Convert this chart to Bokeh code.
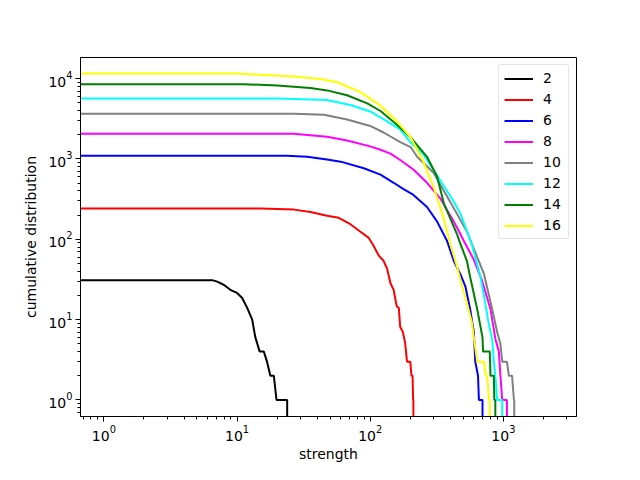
from bokeh.plotting import figure
from bokeh.models import LogTicker
from bokeh.embed import file_html
from bokeh.resources import INLINE

# series labels and colours
labels = ["2", "4", "6", "8", "10", "12", "14", "16"]
colors = ["black", "red", "blue", "magenta", "gray", "cyan", "green", "yellow"]

# strength values (x) and cumulative counts (y); 0.1 stands for a count of 0
s2 = [0.5, 6.5, 7.1, 8.0, 8.9, 10.0, 10.9, 11.9, 13.0, 13.7, 14.8, 15.9, 16.8, 17.8, 18.9, 19.8, 23.8, 23.8]
c2 = [31, 31, 29.7, 27, 23.5, 21.5, 18.7, 14.1, 10, 6.1, 4, 4, 3, 2, 2, 1, 1, 0.1]

s4 = [0.5, 15, 26.8, 35.6, 47.4, 58, 71, 84, 97.6, 106, 116, 126, 134, 142, 150, 158, 164, 168, 176, 183, 189, 200, 204, 208, 210, 211, 211]
c4 = [241, 241, 234, 219, 196, 185, 154, 125, 104, 83, 62.5, 54, 43, 28.4, 23.5, 14.8, 14, 8.1, 7, 5.1, 3, 3, 2, 2, 1, 1, 0.1]

s6 = [0.5, 23.8, 33.6, 47.4, 60, 89.6, 119.5, 150, 178, 207, 267, 318, 378, 424, 478, 518, 563, 600, 615, 645, 655, 697, 697]
c6 = [1093, 1093, 1063, 986, 925, 767, 638, 505, 420, 366, 252, 166, 95, 54, 36, 26, 13.5, 7, 3, 2, 1, 1, 0.1]

s8 = [0.5, 26.5, 47.4, 67, 100, 119.5, 142, 168, 212, 267, 338, 424, 450, 505, 596, 690, 800, 870, 925, 950, 980, 1063, 1063]
c8 = [2060, 2060, 1890, 1693, 1433, 1303, 1166, 970, 733, 505, 318, 166, 138, 95, 57, 31, 13.5, 5.8, 4, 2, 1, 1, 0.1]

s10 = [0.5, 26.5, 45, 67, 100, 126, 168, 201, 225, 300, 400, 532, 636, 714, 824, 898, 950, 980, 1063, 1100, 1162, 1200, 1207, 1207]
c10 = [3650, 3650, 3556, 3100, 2575, 2133, 1615, 1406, 1063, 670, 290, 125, 60, 37.5, 13.5, 7, 5, 3, 3, 2, 2, 1, 1, 0.1]

s12 = [0.5, 20, 47.4, 71, 100, 119.5, 168, 201, 250, 300, 357, 424, 478, 580, 673, 714, 780, 824, 848, 870, 898, 980, 980]
c12 = [5660, 5660, 5400, 4700, 3900, 3300, 2340, 1600, 1150, 720, 460, 296, 205, 86, 34, 20, 8.5, 5.8, 3, 2, 1, 1, 0.1]

s14 = [0.5, 11.2, 20, 35.6, 47.4, 67, 95, 119.5, 158, 201, 267, 318, 357, 450, 478, 532, 563, 636, 697, 704, 790, 800, 848, 855, 870, 870]
c14 = [8530, 8530, 8200, 7620, 7130, 6200, 4920, 3950, 2690, 1858, 1063, 600, 280, 114, 86, 54, 34, 13.5, 6, 4, 4, 2, 2, 1, 1, 0.1]

s16 = [0.5, 10, 15, 26.8, 42, 56.5, 84, 119.5, 158, 201, 245, 300, 357, 400, 450, 478, 532, 580, 596, 636, 714, 738, 756, 780, 790, 790]
c16 = [11600, 11600, 11150, 10650, 9880, 9010, 6820, 4600, 2958, 1858, 1000, 440, 182, 86.5, 45, 30, 16, 9.3, 6.5, 3, 3, 2, 2, 1, 1, 0.1]

xs = [s2, s4, s6, s8, s10, s12, s14, s16]
ys = [c2, c4, c6, c8, c10, c12, c14, c16]

FONT = "DejaVu Sans"

p = figure(width=624, height=464, x_axis_type="log", y_axis_type="log",
           x_range=(0.668, 3540), y_range=(0.623, 18300),
           output_backend="svg", toolbar_location=None,
           min_border_left=80, min_border_right=48,
           min_border_top=57, min_border_bottom=44)

p.xgrid.visible = False
p.ygrid.visible = False
p.outline_line_color = "black"
p.outline_line_alpha = 1
p.outline_line_width = 1
p.background_fill_color = "white"
p.border_fill_color = "white"

for ax in (p.xaxis[0], p.yaxis[0]):
    ax.ticker = LogTicker(num_minor_ticks=10)
    ax.axis_line_color = "black"
    ax.major_tick_line_color = "black"
    ax.minor_tick_line_color = "black"
    ax.major_tick_out = 5
    ax.major_tick_in = 0
    ax.minor_tick_out = 3
    ax.minor_tick_in = 0
    ax.major_label_standoff = 3
    ax.major_label_text_font = FONT
    ax.major_label_text_font_size = "14px"
    ax.major_label_text_color = "black"
    ax.axis_label_text_font = FONT
    ax.axis_label_text_font_size = "14px"
    ax.axis_label_text_font_style = "normal"
    ax.axis_label_text_color = "black"
    ax.axis_label_standoff = 2

p.yaxis[0].axis_label_standoff = 6
p.xaxis.axis_label = "strength"
p.yaxis.axis_label = "cumulative distribution"

for x, y, c, lab in zip(xs, ys, colors, labels):
    p.line(x, y, line_color=c, line_width=2, legend_label=lab)

lg = p.legend[0]
lg.location = "top_right"
lg.margin = 7
lg.padding = 5
lg.spacing = 5
lg.glyph_width = 29
lg.glyph_height = 15
lg.label_standoff = 10
lg.label_text_font = FONT
lg.label_text_font_size = "14px"
lg.label_text_color = "black"
lg.border_line_color = "#cccccc"
lg.border_line_width = 1
lg.background_fill_alpha = 0.8
lg.border_radius = 3

open("out.html", "w").write(file_html(p, INLINE))
